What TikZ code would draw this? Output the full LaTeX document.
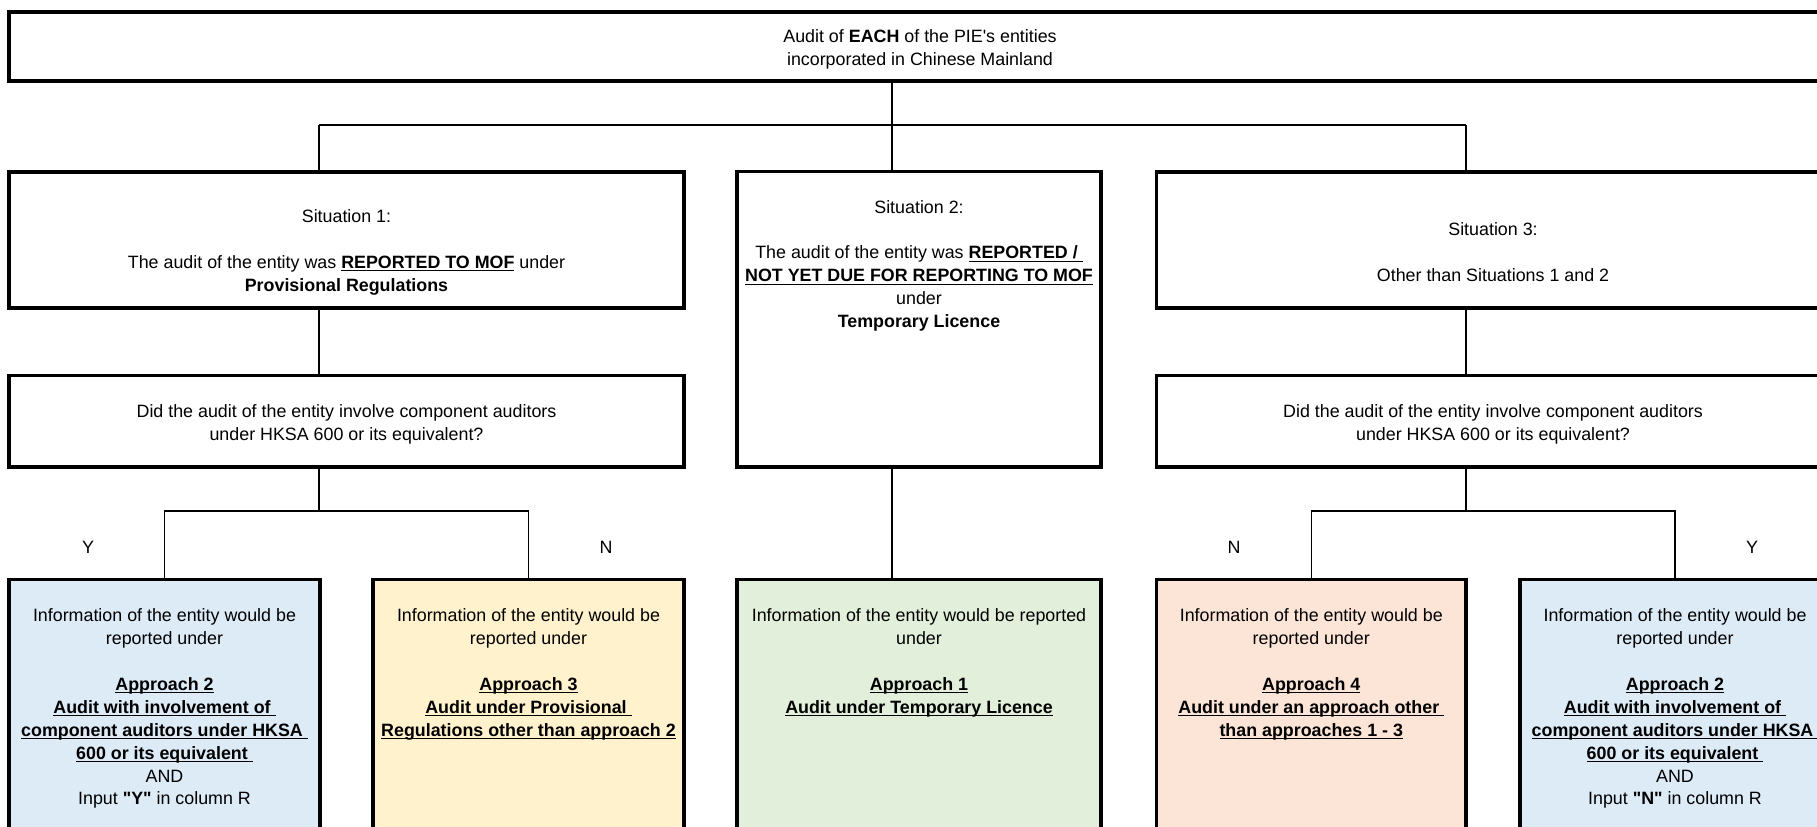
\documentclass[tikz,border=0pt]{standalone}
\usepackage{fontspec}
\setmainfont{Liberation Sans}[Ligatures=TeXOff]
\usetikzlibrary{positioning}
\definecolor{apblue}{RGB}{221,235,247}
\definecolor{apyellow}{RGB}{255,242,204}
\definecolor{apgreen}{RGB}{226,239,218}
\definecolor{appeach}{RGB}{252,228,214}
\newcommand\ulbf[1]{\underline{\smash{\textbf{#1}}}}
\tikzset{
  {txt/.style}={align=center, inner sep=0,
                font=\fontsize{10.16}{13.05}\selectfont},
  {box/.style}={txt, rectangle, draw, line width=2pt},
  {resbox/.style}={box, fill=#1, minimum height=6.01cm},
  {link/.style}={draw, line width=0.8pt},
}

\begin{document}
\begin{tikzpicture}[x=0.02cm,y=-0.02cm]
    \useasboundingbox (0,0) rectangle (1817,826);
    \clip (0,0) rectangle (1817,826);
    \node[box, minimum width=36.44cm, minimum height=1.38cm] (top) at (920,46.5) {};
    \node[txt] (toptxt) at ([yshift=-0.05cm]top.center)
      {Audit of \textbf{EACH} of the PIE's entities\\incorporated in Chinese Mainland};
    % situations
    \node[box, minimum width=13.5cm, minimum height=2.73cm] (sitA) at (346.5,240) {};
    \node[box, minimum width=7.28cm, minimum height=5.91cm] (sitB) at (919,319.25) {};
    \node[box, minimum width=13.46cm, minimum height=2.73cm] (sitC) at (1493,240) {};
    \node[txt, below=0.78cm of sitA.north] (sitAtxt) {Situation 1:\\ \mbox{}\\
      The audit of the entity was \ulbf{REPORTED TO MOF} under\\
      \textbf{Provisional Regulations}};
    \node[txt, below=0.6cm of sitB.north] (sitBtxt) {Situation 2:\\ \mbox{}\\
      The audit of the entity was \ulbf{REPORTED / }\\
      \ulbf{NOT YET DUE FOR REPORTING TO MOF}\\
      under\\ \textbf{Temporary Licence}};
    \node[txt, below=1.04cm of sitC.north] (sitCtxt) {Situation 3:\\ \mbox{}\\
      Other than Situations 1 and 2};
    % questions
    \node[box, minimum width=13.5cm, minimum height=1.83cm] (qA) at (346.5,421.25) {};
    \node[box, minimum width=13.46cm, minimum height=1.83cm] (qC) at (1493,421.25) {};
    \node[txt] (qAtxt) at ([yshift=-0.065cm]qA.center)
      {Did the audit of the entity involve component auditors\\under HKSA 600 or its equivalent?};
    \node[txt] (qCtxt) at ([yshift=-0.065cm]qC.center)
      {Did the audit of the entity involve component auditors\\under HKSA 600 or its equivalent?};
    % results
    \node[resbox=apblue, minimum width=6.22cm] (resA) at (164.5,729.75) {};
    \node[resbox=apyellow, minimum width=6.22cm] (resB) at (528.5,729.75) {};
    \node[resbox=apgreen, minimum width=7.28cm] (resC) at (919,729.75) {};
    \node[resbox=appeach, minimum width=6.19cm] (resD) at (1311.25,729.75) {};
    \node[resbox=apblue, minimum width=6.2cm] (resE) at (1675,729.75) {};
    \node[txt, below=0.61cm of resA.north] (resAtxt) {Information of the entity would be\\
      reported under\\ \mbox{}\\ \ulbf{Approach 2}\\ \ulbf{Audit with involvement of }\\
      \ulbf{component auditors under HKSA }\\ \ulbf{600 or its equivalent }\\
      AND\\ Input \textbf{"Y"} in column R};
    \node[txt, below=0.61cm of resB.north] (resBtxt) {Information of the entity would be\\
      reported under\\ \mbox{}\\ \ulbf{Approach 3}\\ \ulbf{Audit under Provisional }\\
      \ulbf{Regulations other than approach 2}};
    \node[txt, below=0.61cm of resC.north] (resCtxt) {Information of the entity would be reported\\
      under\\ \mbox{}\\ \ulbf{Approach 1}\\ \ulbf{Audit under Temporary Licence}};
    \node[txt, below=0.61cm of resD.north] (resDtxt) {Information of the entity would be\\
      reported under\\ \mbox{}\\ \ulbf{Approach 4}\\ \ulbf{Audit under an approach other }\\
      \ulbf{than approaches 1 - 3}};
    \node[txt, below=0.61cm of resE.north] (resEtxt) {Information of the entity would be\\
      reported under\\ \mbox{}\\ \ulbf{Approach 2}\\ \ulbf{Audit with involvement of }\\
      \ulbf{component auditors under HKSA }\\ \ulbf{600 or its equivalent }\\
      AND\\ Input \textbf{"N"} in column R};
    \node[txt] (yA) at (88,547) {Y};
    \node[txt] (nB) at (606,547) {N};
    \node[txt] (nD) at (1234,547) {N};
    \node[txt] (yE) at (1752,547) {Y};
    % connectors
    \coordinate (busA) at (319,125);
    \coordinate (busB) at (892,125);
    \coordinate (busC) at (1466,125);
    \draw[link] (top.south -| busB) -- (busB);
    \draw[link] (busA) -- (busC);
    \foreach \s/\b in {sitA/busA, sitB/busB, sitC/busC}
      \draw[link] (\b) -- (\s.north -| \b);
    \draw[link] (sitA.south -| busA) -- (qA.north -| busA);
    \draw[link] (sitC.south -| busC) -- (qC.north -| busC);
    \draw[link] (sitB.south -| busB) -- (resC.north -| busB);
    \coordinate (forkA) at (319,511);
    \coordinate (forkC) at (1466,511);
    \draw[link] (qA.south -| forkA) -- (forkA);
    \draw[link] (resA.north) |- (forkA) -| (resB.north);
    \draw[link] (qC.south -| forkC) -- (forkC);
    \draw[link] (resD.north) |- (forkC) -| (resE.north);
\end{tikzpicture}
\end{document}
